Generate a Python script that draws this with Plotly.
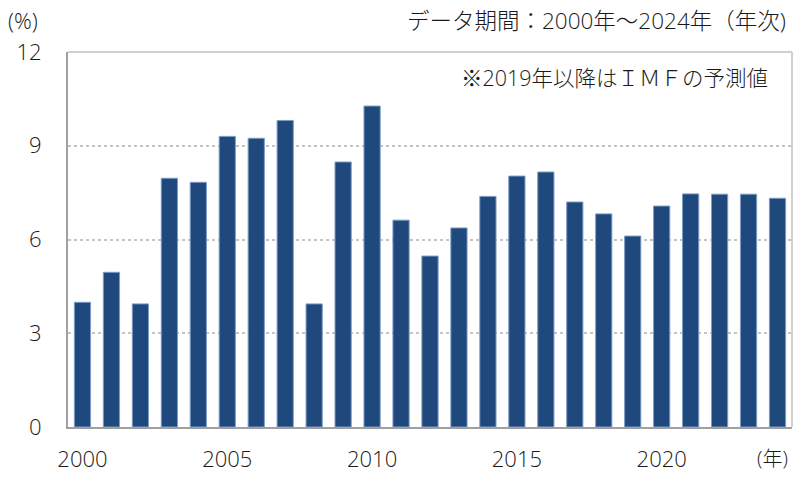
import plotly.graph_objects as go

years = list(range(2000, 2025))
growth = [3.99, 4.95, 3.94, 7.96, 7.83, 9.30, 9.24, 9.81, 3.94, 8.48,
          10.27, 6.62, 5.47, 6.37, 7.38, 8.03, 8.16, 7.20, 6.82, 6.11,
          7.07, 7.46, 7.45, 7.45, 7.32]
y_ticks = [0, 3, 6, 9, 12]
x_ticks = [2000, 2005, 2010, 2015, 2020]

FONT = "Open Sans, Noto Sans CJK JP"
BAR = "#1f497d"

fig = go.Figure(
    go.Bar(
        x=years,
        y=growth,
        marker=dict(color=BAR, line=dict(color="#7f9cc4", width=1)),
        width=0.56,
    )
)

fig.update_layout(
    width=796,
    height=478,
    margin=dict(l=68, r=4, t=52, b=51),
    plot_bgcolor="white",
    paper_bgcolor="white",
    showlegend=False,
    font=dict(family=FONT, size=20, color="#1a1a1a", weight=300),
)

fig.update_xaxes(
    range=[1999.5, 2024.5],
    tickvals=x_ticks,
    ticktext=[str(v) for v in x_ticks],
    showgrid=False,
    ticks="",
    showline=True,
    linecolor="#a0a0a0",
    linewidth=2,
    ticklabelstandoff=12,
    tickfont=dict(size=22, weight=300),
)
fig.update_yaxes(
    range=[0, 12],
    tickvals=y_ticks,
    showgrid=True,
    gridcolor="#c4c4c4",
    griddash="dot",
    gridwidth=1.5,
    zeroline=False,
    ticks="",
    showline=True,
    linecolor="#a0a0a0",
    linewidth=2,
    ticklabelstandoff=20,
    tickfont=dict(size=22, weight=300),
)

# lighter frame on top and right
fig.add_shape(type="line", xref="paper", yref="paper", x0=0, x1=1, y0=1, y1=1,
              line=dict(color="#d0d0d0", width=2))
fig.add_shape(type="line", xref="paper", yref="paper", x0=1, x1=1, y0=0, y1=1,
              line=dict(color="#d0d0d0", width=2))

fig.add_annotation(text="(%)", xref="paper", yref="paper", x=-0.0625, y=1.0,
                   yshift=32, xanchor="center", yanchor="middle", showarrow=False,
                   font=dict(size=22, weight=300))
fig.add_annotation(text="データ期間：2000年～2024年（年次)", xref="paper", yref="paper",
                   x=1.0, y=1.0, yshift=32, xshift=-4, xanchor="right", yanchor="middle",
                   showarrow=False, font=dict(size=22.5, weight=300))
fig.add_annotation(text="※2019年以降はＩＭＦの予測値", xref="paper", yref="paper",
                   x=0.97, y=1.0, yshift=-25, xanchor="right", yanchor="middle",
                   showarrow=False, font=dict(size=21.5, weight=300))
fig.add_annotation(text="(年)", xref="paper", yref="paper", x=1.0, y=0,
                   yshift=-31, xshift=-2, xanchor="right", yanchor="middle",
                   showarrow=False, font=dict(size=20, weight=300))

fig.write_html("out.html", config={"displayModeBar": False},
               post_script="document.body.style.margin='0';")
